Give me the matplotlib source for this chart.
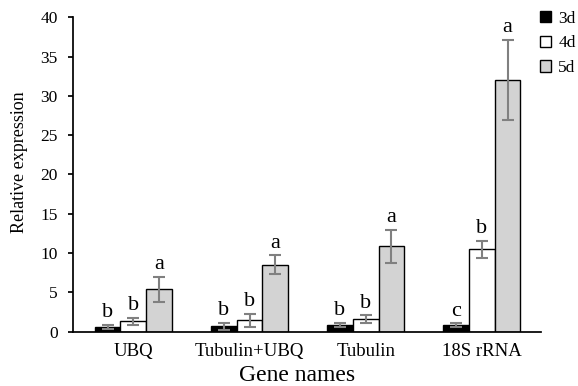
import numpy as np
import matplotlib
matplotlib.use('Agg')
import matplotlib.pyplot as plt
from matplotlib.patches import Patch

plt.rcParams['font.family'] = 'Liberation Serif'

# Expression data per gene, three time points
genes = ['UBQ', 'Tubulin+UBQ', 'Tubulin', '18S rRNA']
days = ['3d', '4d', '5d']
mean_3d = [0.6, 0.7, 0.85, 0.8]
err_3d = [0.25, 0.45, 0.3, 0.25]
mean_4d = [1.35, 1.45, 1.6, 10.5]
err_4d = [0.45, 0.8, 0.5, 1.1]
mean_5d = [5.4, 8.5, 10.9, 32.0]
err_5d = [1.6, 1.2, 2.1, 5.1]
letters_3d = ['b', 'b', 'b', 'c']
letters_4d = ['b', 'b', 'b', 'b']
letters_5d = ['a', 'a', 'a', 'a']

fig = plt.figure(figsize=(5.78, 3.86), dpi=100)
ax = fig.add_axes([0.1263, 0.1407, 0.8097, 0.8145])

x = np.arange(len(genes))
w = 0.222
colors = ['#000000', '#ffffff', '#d3d3d3']
series = [(mean_3d, err_3d, letters_3d), (mean_4d, err_4d, letters_4d), (mean_5d, err_5d, letters_5d)]

for i, (vals, errs, lets) in enumerate(series):
    pos = x + (i - 1) * w
    ax.bar(pos, vals, w, color=colors[i], edgecolor='black', linewidth=1.0, zorder=2)
    ax.errorbar(pos, vals, yerr=errs, fmt='none', ecolor='#808080', elinewidth=1.5,
                capsize=4.5, capthick=1.5, zorder=3)
    # significance letters above each error bar
    for p, v, e, t in zip(pos, vals, errs, lets):
        ax.annotate(t, (p, v + e), xytext=(0, 5.5), textcoords='offset points',
                    ha='center', va='baseline', fontsize=16)

ax.set_xlim(-0.52, 3.51)
ax.set_ylim(0, 40)
ax.set_yticks(range(0, 41, 5))
ax.set_xticks(x)
ax.set_xticklabels(genes, fontsize=13.5)
ax.tick_params(axis='x', length=0, pad=8)
ax.tick_params(axis='y', length=3.6, width=1.25, labelsize=12.5, pad=7.5)

for s in ['top', 'right']:
    ax.spines[s].set_visible(False)
for s in ['left', 'bottom']:
    ax.spines[s].set_linewidth(1.25)

ax.set_ylabel('Relative expression', fontsize=13)
ax.yaxis.set_label_coords(-0.096, 0.538)
ax.set_xlabel('Gene names', fontsize=17)
ax.xaxis.set_label_coords(0.479, -0.105)

handles = [Patch(facecolor=c, edgecolor='black', linewidth=1.0) for c in colors]
fig.legend(handles, days, loc='upper left', bbox_to_anchor=(0.934, 0.972),
           frameon=False, fontsize=12.5, handlelength=0.62, handleheight=0.62,
           handletextpad=0.45, labelspacing=0.5, borderpad=0, borderaxespad=0)

fig.savefig('out.png', dpi=100)
